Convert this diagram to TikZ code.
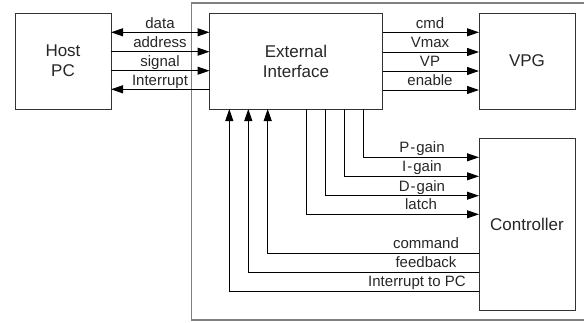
\documentclass[tikz,border=0pt]{standalone}
\usepackage{fontspec}
\setmainfont{Liberation Sans}
\usetikzlibrary{arrows.meta}
\tikzset{
  blk/.style={draw=black!80, line width=1pt, inner sep=0pt, font=\fontsize{17}{20}\selectfont, text=black!85, align=center},
  lbl/.style={font=\fontsize{15}{17}\selectfont, text=black!85, inner sep=0pt, anchor=base},
  sig/.style={draw=black, line width=1pt, -{Triangle[length=12pt,width=8pt]}},
  bsig/.style={draw=black, line width=1pt, {Triangle[length=12pt,width=8pt]}-{Triangle[length=12pt,width=8pt]}},
  wire/.style={draw=black, line width=1pt}
}
\begin{document}
\begin{tikzpicture}[x=1pt,y=-1pt]
\useasboundingbox (0,0) rectangle (584,322);
% outer frame
\draw[gray, line width=1.5pt] (586,3) -- (191.5,3) -- (191.5,320) -- (586,320);
% blocks
\node[blk, minimum width=96pt, minimum height=96pt] (host) at (63,61) {Host\\PC};
\node[blk, minimum width=173pt, minimum height=96pt] (ext) at (296,61) {External\\Interface};
\node[blk, minimum width=96pt, minimum height=96pt] (vpg) at (527,61) {VPG};
\node[blk, minimum width=96pt, minimum height=172pt] (ctl) at (527,224) {Controller};
% host <-> ext
\coordinate (h1) at (111,32.3); \coordinate (e1) at (209.5,32.3);
\coordinate (h2) at (111,51.7); \coordinate (e2) at (209.5,51.7);
\coordinate (h3) at (111,70.7); \coordinate (e3) at (209.5,70.7);
\coordinate (h4) at (111,89.3); \coordinate (e4) at (209.5,89.3);
\draw[bsig] (h1) -- (e1);
\draw[sig] (h2) -- (e2);
\draw[sig] (h3) -- (e3);
\draw[sig] (e4) -- (h4);
\node[lbl] (ldata) at (160,28) {data};
\node[lbl] (laddr) at (160,47.3) {address};
\node[lbl] (lsig) at (160,66.3) {signal};
\node[lbl] (lint) at (160,85) {Interrupt};
% ext -> vpg
\coordinate (x1) at (382.5,32.3); \coordinate (v1) at (479,32.3);
\coordinate (x2) at (382.5,52); \coordinate (v2) at (479,52);
\coordinate (x3) at (382.5,71); \coordinate (v3) at (479,71);
\coordinate (x4) at (382.5,90); \coordinate (v4) at (479,90);
\draw[sig] (x1) -- (v1);
\draw[sig] (x2) -- (v2);
\draw[sig] (x3) -- (v3);
\draw[sig] (x4) -- (v4);
\node[lbl] (lcmd) at (430,28) {cmd};
\node[lbl] (lvmax) at (430,47.6) {Vmax};
\node[lbl] (lvp) at (430,66.6) {VP};
\node[lbl] (len) at (430,85.6) {enable};
% ext -> controller
\coordinate (p0) at (363.3,109); \coordinate (p1) at (479,157.3);
\coordinate (i0) at (344.3,109); \coordinate (i1) at (479,176.3);
\coordinate (d0) at (325,109); \coordinate (d1) at (479,195.7);
\coordinate (l0) at (306,109); \coordinate (l1) at (479,214.3);
\draw[sig] (p0) |- (p1);
\draw[sig] (i0) |- (i1);
\draw[sig] (d0) |- (d1);
\draw[sig] (l0) |- (l1);
\node[lbl] (lpg) at (422,152.8) {P\kern1pt-\kern1ptgain};
\node[lbl] (lig) at (422,171.8) {I\kern1pt-\kern1ptgain};
\node[lbl] (ldg) at (422,191.2) {D\kern1pt-\kern1ptgain};
\node[lbl] (llat) at (421,209.8) {latch};
% controller -> ext
\coordinate (c1) at (479,253.3); \coordinate (u1) at (267.7,109);
\coordinate (c2) at (479,272.3); \coordinate (u2) at (248.3,109);
\coordinate (c3) at (479,291.3); \coordinate (u3) at (229.3,109);
\draw[sig] (c1) -| (u1);
\draw[sig] (c2) -| (u2);
\draw[sig] (c3) -| (u3);
\node[lbl] (lcom) at (426,248.8) {command};
\node[lbl] (lfb) at (426,267.8) {feedback};
\node[lbl] (litp) at (417,286.8) {Interrupt to PC};
\end{tikzpicture}
\end{document}
